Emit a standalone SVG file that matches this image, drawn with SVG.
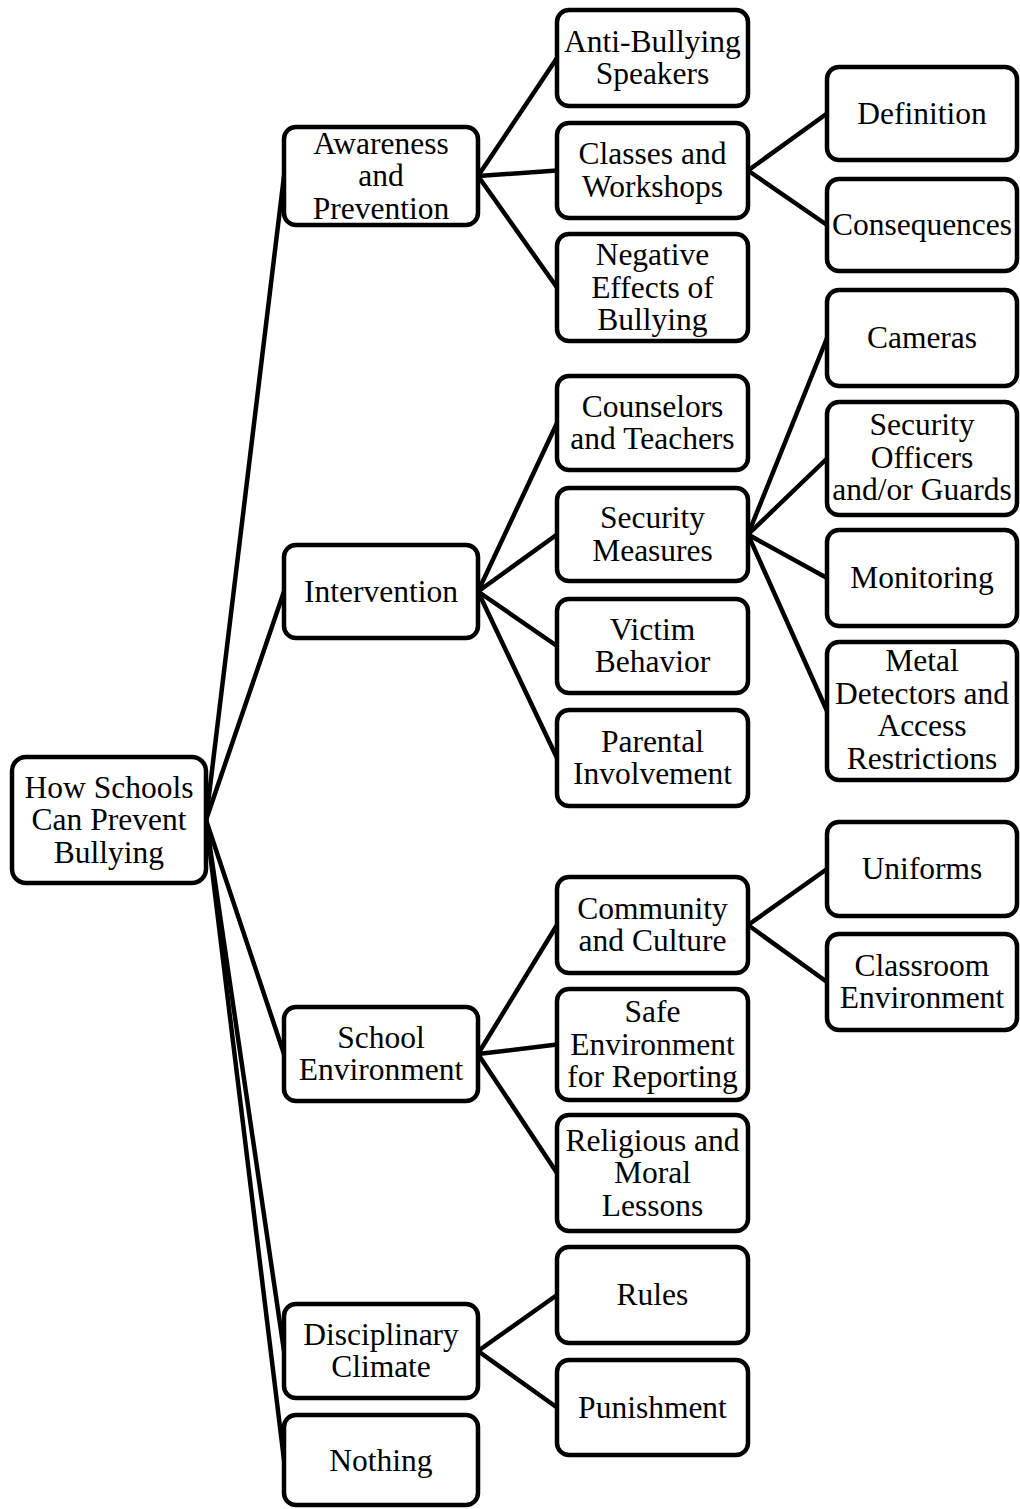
<svg xmlns="http://www.w3.org/2000/svg" width="1020" height="1509" viewBox="0 0 1020 1509">
<style>
.box{fill:#fff;stroke:#000;stroke-width:4.5}
.lbl{font-family:"Liberation Serif","Times New Roman",serif;font-size:31.5px;text-anchor:middle;fill:#000}
.con line{stroke:#000;stroke-width:4.5;stroke-linecap:round}
</style>
<rect width="1020" height="1509" fill="#fff"/>
<g id="connectors" class="con">
<line x1="206" y1="820" x2="284" y2="176"/>
<line x1="206" y1="820" x2="284" y2="591.5"/>
<line x1="206" y1="820" x2="284" y2="1054"/>
<line x1="206" y1="820" x2="284" y2="1351"/>
<line x1="206" y1="820" x2="284" y2="1460"/>
<line x1="478" y1="176" x2="557" y2="58"/>
<line x1="478" y1="176" x2="557" y2="170.5"/>
<line x1="478" y1="176" x2="557" y2="287.5"/>
<line x1="748" y1="170.5" x2="827" y2="113.5"/>
<line x1="748" y1="170.5" x2="827" y2="225"/>
<line x1="478" y1="591.5" x2="557" y2="423"/>
<line x1="478" y1="591.5" x2="557" y2="534.5"/>
<line x1="478" y1="591.5" x2="557" y2="646"/>
<line x1="478" y1="591.5" x2="557" y2="758"/>
<line x1="748" y1="534.5" x2="827" y2="338"/>
<line x1="748" y1="534.5" x2="827" y2="458.5"/>
<line x1="748" y1="534.5" x2="827" y2="578"/>
<line x1="748" y1="534.5" x2="827" y2="711"/>
<line x1="478" y1="1054" x2="557" y2="925"/>
<line x1="478" y1="1054" x2="557" y2="1044.5"/>
<line x1="478" y1="1054" x2="557" y2="1173"/>
<line x1="748" y1="925" x2="827" y2="869"/>
<line x1="748" y1="925" x2="827" y2="982"/>
<line x1="478" y1="1351" x2="557" y2="1295"/>
<line x1="478" y1="1351" x2="557" y2="1407.5"/>
</g>
<g id="root"><rect class="box" x="12" y="757" width="194" height="126" rx="14"/><text class="lbl"><tspan x="109" y="797.5">How Schools</tspan><tspan x="109" y="830">Can Prevent</tspan><tspan x="109" y="862.5">Bullying</tspan></text></g>
<g id="awareness"><rect class="box" x="284" y="127" width="194" height="98" rx="12"/><text class="lbl"><tspan x="381" y="153.5">Awareness</tspan><tspan x="381" y="186">and</tspan><tspan x="381" y="218.5">Prevention</tspan></text></g>
<g id="intervention"><rect class="box" x="284" y="545" width="194" height="93" rx="12"/><text class="lbl"><tspan x="381" y="601.5">Intervention</tspan></text></g>
<g id="school-environment"><rect class="box" x="284" y="1007" width="194" height="94" rx="12"/><text class="lbl"><tspan x="381" y="1047.5">School</tspan><tspan x="381" y="1080">Environment</tspan></text></g>
<g id="disciplinary-climate"><rect class="box" x="284" y="1304" width="194" height="94" rx="12"/><text class="lbl"><tspan x="381" y="1344.5">Disciplinary</tspan><tspan x="381" y="1377">Climate</tspan></text></g>
<g id="nothing"><rect class="box" x="284" y="1415" width="194" height="90" rx="12"/><text class="lbl"><tspan x="381" y="1470.5">Nothing</tspan></text></g>
<g id="anti-bullying"><rect class="box" x="557" y="10" width="191" height="96" rx="12"/><text class="lbl"><tspan x="652.5" y="51.5">Anti-Bullying</tspan><tspan x="652.5" y="84">Speakers</tspan></text></g>
<g id="classes"><rect class="box" x="557" y="123" width="191" height="95" rx="12"/><text class="lbl"><tspan x="652.5" y="164">Classes and</tspan><tspan x="652.5" y="196.5">Workshops</tspan></text></g>
<g id="negative-effects"><rect class="box" x="557" y="234" width="191" height="107" rx="12"/><text class="lbl"><tspan x="652.5" y="265">Negative</tspan><tspan x="652.5" y="297.5">Effects of</tspan><tspan x="652.5" y="330">Bullying</tspan></text></g>
<g id="counselors"><rect class="box" x="557" y="376" width="191" height="94" rx="12"/><text class="lbl"><tspan x="652.5" y="416.5">Counselors</tspan><tspan x="652.5" y="449">and Teachers</tspan></text></g>
<g id="security-measures"><rect class="box" x="557" y="488" width="191" height="93" rx="12"/><text class="lbl"><tspan x="652.5" y="528">Security</tspan><tspan x="652.5" y="560.5">Measures</tspan></text></g>
<g id="victim-behavior"><rect class="box" x="557" y="599" width="191" height="94" rx="12"/><text class="lbl"><tspan x="652.5" y="639.5">Victim</tspan><tspan x="652.5" y="672">Behavior</tspan></text></g>
<g id="parental"><rect class="box" x="557" y="710" width="191" height="96" rx="12"/><text class="lbl"><tspan x="652.5" y="751.5">Parental</tspan><tspan x="652.5" y="784">Involvement</tspan></text></g>
<g id="community"><rect class="box" x="557" y="877" width="191" height="96" rx="12"/><text class="lbl"><tspan x="652.5" y="918.5">Community</tspan><tspan x="652.5" y="951">and Culture</tspan></text></g>
<g id="safe-environment"><rect class="box" x="557" y="989" width="191" height="111" rx="12"/><text class="lbl"><tspan x="652.5" y="1022">Safe</tspan><tspan x="652.5" y="1054.5">Environment</tspan><tspan x="652.5" y="1087">for Reporting</tspan></text></g>
<g id="religious"><rect class="box" x="557" y="1115" width="191" height="116" rx="12"/><text class="lbl"><tspan x="652.5" y="1150.5">Religious and</tspan><tspan x="652.5" y="1183">Moral</tspan><tspan x="652.5" y="1215.5">Lessons</tspan></text></g>
<g id="rules"><rect class="box" x="557" y="1247" width="191" height="96" rx="12"/><text class="lbl"><tspan x="652.5" y="1305">Rules</tspan></text></g>
<g id="punishment"><rect class="box" x="557" y="1360" width="191" height="95" rx="12"/><text class="lbl"><tspan x="652.5" y="1417.5">Punishment</tspan></text></g>
<g id="definition"><rect class="box" x="827" y="67" width="190" height="93" rx="12"/><text class="lbl"><tspan x="922" y="123.5">Definition</tspan></text></g>
<g id="consequences"><rect class="box" x="827" y="179" width="190" height="92" rx="12"/><text class="lbl"><tspan x="922" y="235">Consequences</tspan></text></g>
<g id="cameras"><rect class="box" x="827" y="290" width="190" height="96" rx="12"/><text class="lbl"><tspan x="922" y="348">Cameras</tspan></text></g>
<g id="security-officers"><rect class="box" x="827" y="402" width="190" height="113" rx="12"/><text class="lbl"><tspan x="922" y="435">Security</tspan><tspan x="922" y="467.5">Officers</tspan><tspan x="922" y="500">and/or Guards</tspan></text></g>
<g id="monitoring"><rect class="box" x="827" y="530" width="190" height="96" rx="12"/><text class="lbl"><tspan x="922" y="588">Monitoring</tspan></text></g>
<g id="metal-detectors"><rect class="box" x="827" y="642" width="190" height="138" rx="12"/><text class="lbl"><tspan x="922" y="671">Metal</tspan><tspan x="922" y="703.5">Detectors and</tspan><tspan x="922" y="736">Access</tspan><tspan x="922" y="768.5">Restrictions</tspan></text></g>
<g id="uniforms"><rect class="box" x="827" y="822" width="190" height="94" rx="12"/><text class="lbl"><tspan x="922" y="879">Uniforms</tspan></text></g>
<g id="classroom"><rect class="box" x="827" y="934" width="190" height="96" rx="12"/><text class="lbl"><tspan x="922" y="975.5">Classroom</tspan><tspan x="922" y="1008">Environment</tspan></text></g>
</svg>
